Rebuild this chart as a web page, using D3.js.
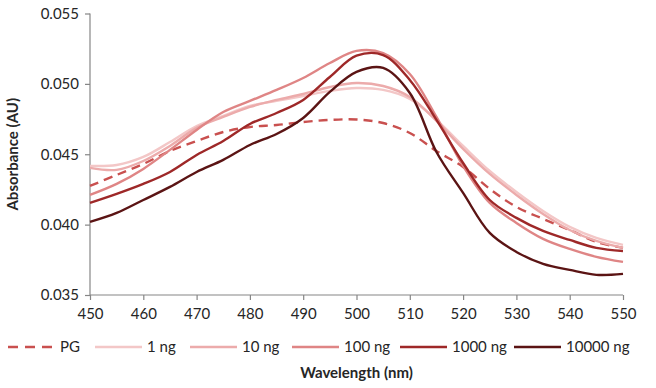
<!DOCTYPE html>
<html><head><meta charset="utf-8">
<script src="https://cdn.jsdelivr.net/npm/d3@7"></script>
<style>
body{margin:0;background:#fff;}
svg text{font-family:Lato,"Open Sans",sans-serif;fill:#262626;}
</style></head>
<body><svg id="c" width="656" height="388"></svg>
<script>
const wavelengths = [450,455,460,465,470,475,480,485,490,495,500,505,510,515,520,525,530,535,540,545,550];
const seriesNames = ["PG","1 ng","10 ng","100 ng","1000 ng","10000 ng"];
const pgValues    = [0.04275,0.04353,0.04431,0.04523,0.04594,0.04658,0.04694,0.04708,0.04729,0.04744,0.04747,0.04722,0.04651,0.04523,0.04410,0.04254,0.04126,0.04041,0.03962,0.03877,0.03835];
const ng1Values   = [0.04417,0.04424,0.04481,0.04587,0.04701,0.04772,0.04843,0.04879,0.04914,0.04950,0.04971,0.04957,0.04893,0.04744,0.04559,0.04381,0.04232,0.04097,0.03984,0.03906,0.03856];
const ng10Values  = [0.04403,0.04389,0.04452,0.04559,0.04687,0.04765,0.04836,0.04886,0.04928,0.04978,0.05006,0.04985,0.04907,0.04737,0.04538,0.04360,0.04211,0.04076,0.03962,0.03884,0.03835];
const ng100Values = [0.04211,0.04289,0.04396,0.04531,0.04673,0.04800,0.04879,0.04957,0.05042,0.05148,0.05234,0.05219,0.05070,0.04765,0.04417,0.04154,0.04012,0.03899,0.03827,0.03771,0.03735];
const ng1000Values= [0.04154,0.04218,0.04289,0.04374,0.04495,0.04594,0.04715,0.04793,0.04886,0.05049,0.05200,0.05205,0.05028,0.04744,0.04438,0.04175,0.04048,0.03955,0.03891,0.03835,0.03813];
const ng10000Values=[0.04019,0.04083,0.04175,0.04268,0.04374,0.04460,0.04566,0.04644,0.04758,0.04943,0.05085,0.05113,0.04935,0.04516,0.04225,0.03941,0.03806,0.03721,0.03678,0.03643,0.03650];
const xTicks = [450,460,470,480,490,500,510,520,530,540,550];
const yTicks = [0.035,0.040,0.045,0.050,0.055];
const colors = ["#c9504f","#f3c7c7","#ecabab","#df8585","#9e2828","#5b1414"];

const allValues = [pgValues,ng1Values,ng10Values,ng100Values,ng1000Values,ng10000Values];
const svg = d3.select("#c");
const L=90,R=623,T=13.5,B=295;
const x = d3.scaleLinear().domain([450,550]).range([L,R]);
const y = d3.scaleLinear().domain([0.035,0.055]).range([B,T]);

const ax = svg.append("g").attr("transform",`translate(0,${B})`)
  .call(d3.axisBottom(x).tickValues(xTicks).tickSize(5).tickPadding(8).tickFormat(d3.format("d")));
const ay = svg.append("g").attr("transform",`translate(${L},0)`)
  .call(d3.axisLeft(y).tickValues(yTicks).tickSize(5).tickPadding(6).tickFormat(d3.format(".3f")));
[ax,ay].forEach(a=>{
  a.selectAll("line").attr("stroke","#868686").attr("stroke-width",1.2);
  a.selectAll("text").attr("font-size",15).attr("fill","#262626").style("font-family","Lato,sans-serif");
  a.select(".domain").remove();
});
svg.append("line").attr("x1",L).attr("x2",L).attr("y1",T).attr("y2",B).attr("stroke","#868686").attr("stroke-width",1.2);
svg.append("line").attr("x1",L).attr("x2",R).attr("y1",B).attr("y2",B).attr("stroke","#868686").attr("stroke-width",1.2);

const line = d3.line().x((d,i)=>x(wavelengths[i])).y(d=>y(d)).curve(d3.curveCatmullRom.alpha(0.5));
allValues.forEach((vals,k)=>{
  svg.append("path").attr("d",line(vals)).attr("fill","none")
    .attr("stroke",colors[k]).attr("stroke-width",2.4)
    .attr("stroke-dasharray",k===0?"9,6":null);
});

// legend
const legendX = [8,95,190,292,400,514];
const lg = svg.append("g");
seriesNames.forEach((n,k)=>{
  const x0=legendX[k];
  lg.append("line").attr("x1",x0).attr("x2",x0+47).attr("y1",347).attr("y2",347)
    .attr("stroke",colors[k]).attr("stroke-width",2.6).attr("stroke-dasharray",k===0?"10,7":null);
  lg.append("text").attr("x",x0+52).attr("y",352).attr("font-size",15).text(n);
});

svg.append("text").attr("x",(L+R)/2).attr("y",378).attr("text-anchor","middle")
  .attr("font-size",15).attr("font-weight","bold").text("Wavelength (nm)");
svg.append("text").attr("transform",`translate(18,${(T+B)/2}) rotate(-90)`).attr("text-anchor","middle")
  .attr("font-size",15).attr("font-weight","bold").text("Absorbance (AU)");
</script></body></html>
